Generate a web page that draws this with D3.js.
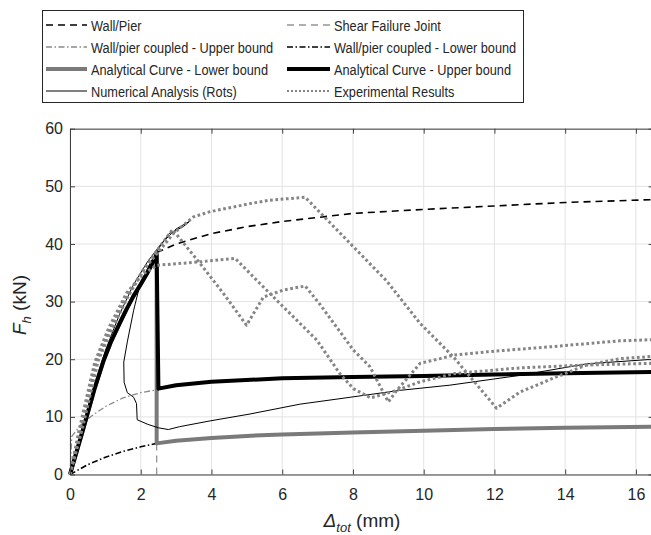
<!DOCTYPE html>
<html>
<head>
<meta charset="utf-8">
<script src="https://cdn.jsdelivr.net/npm/d3@7"></script>
<style>
  body { margin: 0; background: #fff; }
  svg { display: block; }
  text { font-family: "Liberation Sans", Arial, sans-serif; fill: #262626; }
</style>
</head>
<body>
<div id="chart"></div>
<script>
// values, [delta_tot (mm), F_h (kN)]
const xTicks = [0, 2, 4, 6, 8, 10, 12, 14, 16];
const yTicks = [0, 10, 20, 30, 40, 50, 60];

const wallPier = [[2.45, 38.5], [3, 40.0], [4, 41.8], [5, 43.0], [6, 43.9], [7, 44.6], [8, 45.3], [10, 46.0], [12, 46.6], [14, 47.2], [16.5, 47.7]];
const shearJoint = [[2.45, 0], [2.45, 5.4]];
const coupledUpper = [[0, 0], [0.05, 6.6], [0.3, 8.6], [0.6, 10.1], [1.0, 11.8], [1.5, 13.3], [2.0, 14.2], [2.45, 14.7]];
const coupledLower = [[0, 0], [0.5, 1.7], [1.0, 3.0], [1.5, 4.0], [2.0, 4.8], [2.45, 5.4]];
const analyticalRise = [[0, 0], [0.35, 7.4], [0.7, 15.0], [0.94, 19.6], [1.15, 22.9], [1.41, 26.3], [1.6, 28.7], [1.79, 30.9], [2.0, 33.0], [2.17, 34.8], [2.3, 36.3], [2.45, 38.2]];
const analyticalLower = analyticalRise.concat([[2.45, 5.4], [3, 5.85], [4, 6.35], [5, 6.7], [6, 6.95], [8, 7.3], [10, 7.6], [12, 7.9], [14, 8.1], [16.5, 8.3]]);
const analyticalUpper = analyticalRise.concat([[2.5, 14.9], [3, 15.5], [4, 16.1], [6, 16.7], [8, 16.9], [10, 17.1], [12, 17.35], [14, 17.55], [16.5, 17.8]]);
const numerical = [[0, 0], [0.5, 11.5], [1.0, 21.5], [1.4, 27.8], [1.8, 33.0], [2.2, 37.0], [2.6, 40.2], [3.0, 42.6], [3.4, 44.0], [3.2, 43.0], [2.8, 41.8], [2.54, 39.5], [2.26, 36.6], [1.98, 33.0], [1.8, 28.5], [1.62, 23.0], [1.52, 19.5], [1.53, 16.0], [1.62, 14.2], [1.8, 13.4], [1.88, 12.3], [1.9, 9.5], [2.2, 8.7], [2.5, 8.1], [2.78, 7.8], [3.1, 8.3], [3.96, 9.3], [5.09, 10.5], [6.5, 12.2], [7.92, 13.4], [9.33, 14.6], [10.74, 15.5], [12.72, 17.2], [14.6, 19.2], [16.5, 20.0]];
const expA = [[0, 0], [0.31, 7.7], [0.75, 19.8], [1.13, 25.1], [1.6, 30.8], [2.07, 35.5], [2.54, 38.9], [2.92, 41.8], [3.49, 44.7], [3.96, 45.6], [5.09, 47.0], [5.65, 47.6], [6.65, 48.1], [7.92, 40.1], [8.95, 33.6], [9.9, 26.2], [10.84, 20.4], [12.06, 11.5], [12.72, 14.3], [13.66, 16.7], [14.6, 19.0], [15.55, 20.1], [16.5, 20.5]];
const expB = [[0, 0], [0.25, 7.5], [0.7, 19.5], [1.1, 25.5], [1.6, 31.5], [2.07, 34.8], [2.45, 36.3], [3.68, 36.9], [4.67, 37.5], [5.28, 33.7], [6.03, 29.1], [6.98, 23.3], [7.63, 17.5], [8.01, 14.9], [8.5, 13.3], [9.24, 14.6], [9.9, 16.1], [10.46, 16.9], [10.84, 17.5], [12.72, 18.5], [14.61, 19.0], [16.5, 19.3]];
const expC = [[0, 0], [0.35, 8.0], [0.8, 19.8], [1.2, 25.5], [1.65, 31.0], [2.1, 35.6], [2.5, 39.2], [2.9, 42.5], [3.68, 36.6], [4.34, 31.4], [4.99, 25.9], [5.47, 30.8], [6.03, 32.0], [6.65, 32.7], [7.07, 29.5], [8.01, 21.6], [8.48, 18.7], [9.0, 12.6], [9.24, 14.6], [9.61, 17.2], [9.9, 19.3], [10.46, 20.1], [10.84, 20.7], [11.8, 21.3], [13.66, 22.2], [15.55, 23.2], [16.5, 23.4]];

const legendLabels = [
  "Wall/Pier", "Shear Failure Joint",
  "Wall/pier coupled - Upper bound", "Wall/pier coupled - Lower bound",
  "Analytical Curve - Lower bound", "Analytical Curve - Upper bound",
  "Numerical Analysis (Rots)", "Experimental Results"
];

const styles = {
  "Wall/Pier": { stroke: "#000", width: 1.6, dash: "7,5" },
  "Shear Failure Joint": { stroke: "#959595", width: 1.3, dash: "7,5" },
  "Wall/pier coupled - Upper bound": { stroke: "#8a8a8a", width: 1.3, dash: "6,2.5,1.5,2.5" },
  "Wall/pier coupled - Lower bound": { stroke: "#000", width: 1.6, dash: "6,2.5,1.5,2.5" },
  "Analytical Curve - Lower bound": { stroke: "#7a7a7a", width: 4, dash: null },
  "Analytical Curve - Upper bound": { stroke: "#000", width: 4, dash: null },
  "Numerical Analysis (Rots)": { stroke: "#000", width: 1, dash: null },
  "Experimental Results": { stroke: "#858585", width: 3, dash: "2.7,2.6" }
};

const series = [
  { name: "Wall/Pier", data: [wallPier] },
  { name: "Shear Failure Joint", data: [shearJoint] },
  { name: "Wall/pier coupled - Upper bound", data: [coupledUpper] },
  { name: "Wall/pier coupled - Lower bound", data: [coupledLower] },
  { name: "Analytical Curve - Lower bound", data: [analyticalLower] },
  { name: "Analytical Curve - Upper bound", data: [analyticalUpper] },
  { name: "Numerical Analysis (Rots)", data: [numerical] },
  { name: "Experimental Results", data: [expA, expB, expC] }
];

const width = 651, height = 535;
const margin = { left: 70, top: 128.7, bottom: 474.5 };

const svg = d3.select("#chart").append("svg")
  .attr("width", width)
  .attr("height", height);

const x = d3.scaleLinear().domain([0, 16.5]).range([margin.left, 653.6]);
const y = d3.scaleLinear().domain([0, 60]).range([margin.bottom, margin.top]);

// grid
const grid = svg.append("g").attr("stroke", "#e3e3e3").attr("stroke-width", 1);
grid.selectAll(".gx").data(xTicks).enter().append("line")
  .attr("x1", d => x(d)).attr("x2", d => x(d))
  .attr("y1", y(0)).attr("y2", y(60));
grid.selectAll(".gy").data(yTicks).enter().append("line")
  .attr("x1", x(0)).attr("x2", x(16.5))
  .attr("y1", d => y(d)).attr("y2", d => y(d));

// curves
const line = d3.line().x(d => x(d[0])).y(d => y(d[1]));

series.forEach(s => {
  const st = styles[s.name];
  s.data.forEach(pts => {
    svg.append("path")
      .attr("d", line(pts))
      .attr("fill", "none")
      .attr("stroke", st.stroke)
      .attr("stroke-width", st.width)
      .attr("stroke-dasharray", st.dash)
      .attr("stroke-linejoin", "round");
  });
});

// axes, matlab style: ticks inside, box round the plot
const axisColor = "#404040";

const xAxis = svg.append("g")
  .attr("transform", `translate(0,${y(0)})`)
  .call(d3.axisBottom(x).tickValues(xTicks).tickSizeInner(-5).tickSizeOuter(0).tickPadding(14));
xAxis.selectAll("text").attr("font-size", 16).style("font-family", "'Liberation Sans', Arial, sans-serif").attr("fill", "#262626");

const yAxis = svg.append("g")
  .attr("transform", `translate(${x(0)},0)`)
  .call(d3.axisLeft(y).tickValues(yTicks).tickSizeInner(-5).tickSizeOuter(0).tickPadding(7));
yAxis.selectAll("text").attr("font-size", 16).style("font-family", "'Liberation Sans', Arial, sans-serif").attr("fill", "#262626");

svg.append("g")
  .attr("transform", `translate(0,${y(60)})`)
  .call(d3.axisTop(x).tickValues(xTicks).tickSizeInner(-5).tickSizeOuter(0).tickFormat(""));

svg.append("g")
  .attr("transform", `translate(${x(16.5)},0)`)
  .call(d3.axisRight(y).tickValues(yTicks).tickSizeInner(-5).tickSizeOuter(0).tickFormat(""));

svg.selectAll(".domain, .tick line").attr("stroke", axisColor);

// axis titles
const xTitle = svg.append("text")
  .attr("x", 362)
  .attr("y", 527)
  .attr("text-anchor", "middle")
  .attr("font-size", 19);
xTitle.append("tspan").attr("font-style", "italic").text("Δ");
xTitle.append("tspan").attr("font-style", "italic").attr("font-size", 13).attr("dy", 5).text("tot");
xTitle.append("tspan").attr("dy", -5).text(" (mm)");

const yTitle = svg.append("text")
  .attr("transform", "translate(26,305) rotate(-90)")
  .attr("text-anchor", "middle")
  .attr("font-size", 19);
yTitle.append("tspan").attr("font-style", "italic").text("F");
yTitle.append("tspan").attr("font-style", "italic").attr("font-size", 13).attr("dy", 5).text("h");
yTitle.append("tspan").attr("dy", -5).text(" (kN)");

// legend
const legend = svg.append("g");
legend.append("rect")
  .attr("x", 42.5).attr("y", 10.5)
  .attr("width", 481).attr("height", 92)
  .attr("fill", "#fff")
  .attr("stroke", "#262626")
  .attr("stroke-width", 1);

const colX = [46, 287];
const sampleLen = [41, 43];
legendLabels.forEach((label, i) => {
  const col = i % 2, row = Math.floor(i / 2);
  const cy = 25 + row * 22;
  const st = styles[label];
  const lx = colX[col];
  legend.append("line")
    .attr("x1", lx).attr("x2", lx + sampleLen[col])
    .attr("y1", cy).attr("y2", cy)
    .attr("stroke", st.stroke)
    .attr("stroke-width", label === "Experimental Results" ? 2 : st.width)
    .attr("stroke-dasharray", label === "Experimental Results" ? "2,2" : st.dash);
  const tx = lx + sampleLen[col] + 4;
  legend.append("text")
    .attr("transform", `translate(${tx},${cy + 5.5}) scale(0.85,1)`)
    .attr("font-size", 15)
    .text(label);
});
</script>
</body>
</html>
